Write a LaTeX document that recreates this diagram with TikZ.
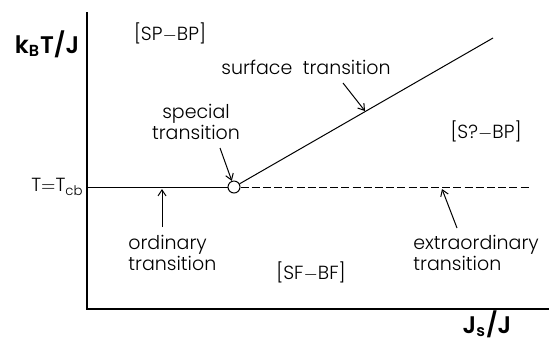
\documentclass[tikz,border=0pt]{standalone}
\usepackage{fontspec}
\setmainfont{Poppins Light}[BoldFont=Poppins SemiBold]
\usetikzlibrary{arrows.meta, positioning}
\tikzset{
  axis/.style={line width=1pt, line cap=rect},
  phase/.style={line width=0.5pt},
  phasedash/.style={phase, dash pattern=on 4pt off 1.6pt},
  lbl/.style={font=\fontsize{9.5}{10.5}\selectfont, inner sep=0pt, align=center},
  axlbl/.style={font=\fontsize{12}{13}\bfseries\selectfont, inner sep=0pt},
  pointer/.style={-{Straight Barb[length=3pt, width=4pt]}, line width=0.5pt},
  spot/.style={circle, draw, line width=0.5pt, minimum size=6pt, inner sep=0pt},
}
\begin{document}
\begin{tikzpicture}[x=0.5pt, y=-0.5pt]
  \useasboundingbox (0,0) rectangle (549,345);
  % axes
  \coordinate (origin) at (87,309);
  \coordinate (ytop) at (87,13);
  \coordinate (xend) at (549,309);
  \draw[axis] (ytop) -- (origin) -- (xend);
  \node[axlbl] (ylab) at (47,44) {k$_{\mathbf{B}}$T/J};
  \node[axlbl] (xlab) at (487,324) {J$_{\mathbf{s}}$/J};

  % phase boundaries
  \coordinate (tcb) at (87,187);
  \node[spot] (sp) at (234,187) {};
  \coordinate (dashend) at (530,187);
  \coordinate (surfend) at (493,38);
  \draw[phase] (tcb) -- (sp.west);
  \draw[phasedash] (sp.east) -- (dashend);
  \draw[phase] (sp) -- (surfend);
  \node[lbl, anchor=east] (tlab) at (84,187) {T$=$T$_{\mathrm{cb}}$};

  % phases
  \node[lbl] (spbp) at (170,33) {[SP$-$BP]};
  \node[lbl] (sqbp) at (486,131) {[S?$-$BP]};
  \node[lbl] (sfbf) at (311,272) {[SF$-$BF]};

  % transitions
  \node[lbl] (surf) at (306,67) {surface\ \ transition};
  \coordinate (surftail) at (343,83);
  \coordinate (surfhead) at (365,111);
  \draw[pointer] (surftail) -- (surfhead);

  \node[lbl] (spec) at (196,122) {special\\transition};
  \coordinate (spectail) at (220,148);
  \draw[pointer] (spectail) -- (sp);

  \node[lbl, align=left, anchor=west] (ord) at (128,253) {ordinary\\transition};
  \coordinate (ordtail) at (162,227);
  \coordinate (ordhead) at (162,189);
  \draw[pointer] (ordtail) -- (ordhead);

  \node[lbl, align=left, anchor=west] (extra) at (413,253) {extraordinary\\transition};
  \coordinate (extratail) at (457,228);
  \coordinate (extrahead) at (442,189);
  \draw[pointer] (extratail) -- (extrahead);
\end{tikzpicture}
\end{document}
